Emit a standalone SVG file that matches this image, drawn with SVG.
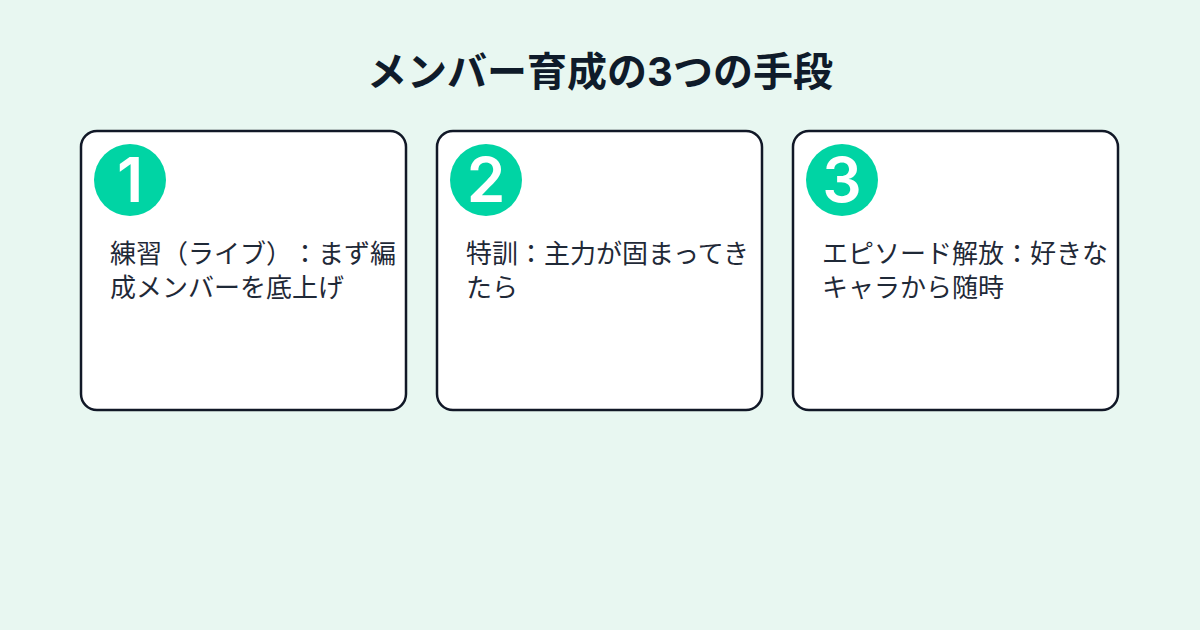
<svg xmlns="http://www.w3.org/2000/svg" width="1200" height="630" viewBox="0 0 1200 630">
<style>
.card{fill:#ffffff;stroke:#111827;stroke-width:2.5}
.badge{fill:#00d4a4}
.num{fill:#ffffff;font-family:Inter,"Noto Sans CJK JP",sans-serif;font-weight:600;font-size:62px;text-anchor:middle}
.body{fill:#1f2937;font-family:Inter,"Noto Sans CJK JP",sans-serif;font-size:26px;text-spacing-trim:space-all}
.title{fill:#0f1b2a;font-family:Inter,"Noto Sans CJK JP",sans-serif;font-weight:700;font-size:40px;text-anchor:middle;text-spacing-trim:space-all}
</style>
<rect width="1200" height="630" fill="#e8f7f1"/>
<text class="title" x="600" y="86">メンバー育成の3つの手段</text>
<g id="node1">
<rect class="card" x="81" y="131" width="325" height="279" rx="16"/>
<circle class="badge" cx="130" cy="180" r="36"/>
<text class="num" x="130" y="202">1</text>
<text class="body" x="110" y="263">練習（ライブ）：まず編</text>
<text class="body" x="110" y="297">成メンバーを底上げ</text>
</g>
<g id="node2">
<rect class="card" x="437" y="131" width="325" height="279" rx="16"/>
<circle class="badge" cx="486" cy="180" r="36"/>
<text class="num" x="486" y="202">2</text>
<text class="body" x="466" y="263">特訓：主力が固まってき</text>
<text class="body" x="466" y="297">たら</text>
</g>
<g id="node3">
<rect class="card" x="793" y="131" width="325" height="279" rx="16"/>
<circle class="badge" cx="842" cy="180" r="36"/>
<text class="num" x="842" y="202">3</text>
<text class="body" x="822" y="263">エピソード解放：好きな</text>
<text class="body" x="822" y="297">キャラから随時</text>
</g>
<g id="connectors"/>
</svg>
